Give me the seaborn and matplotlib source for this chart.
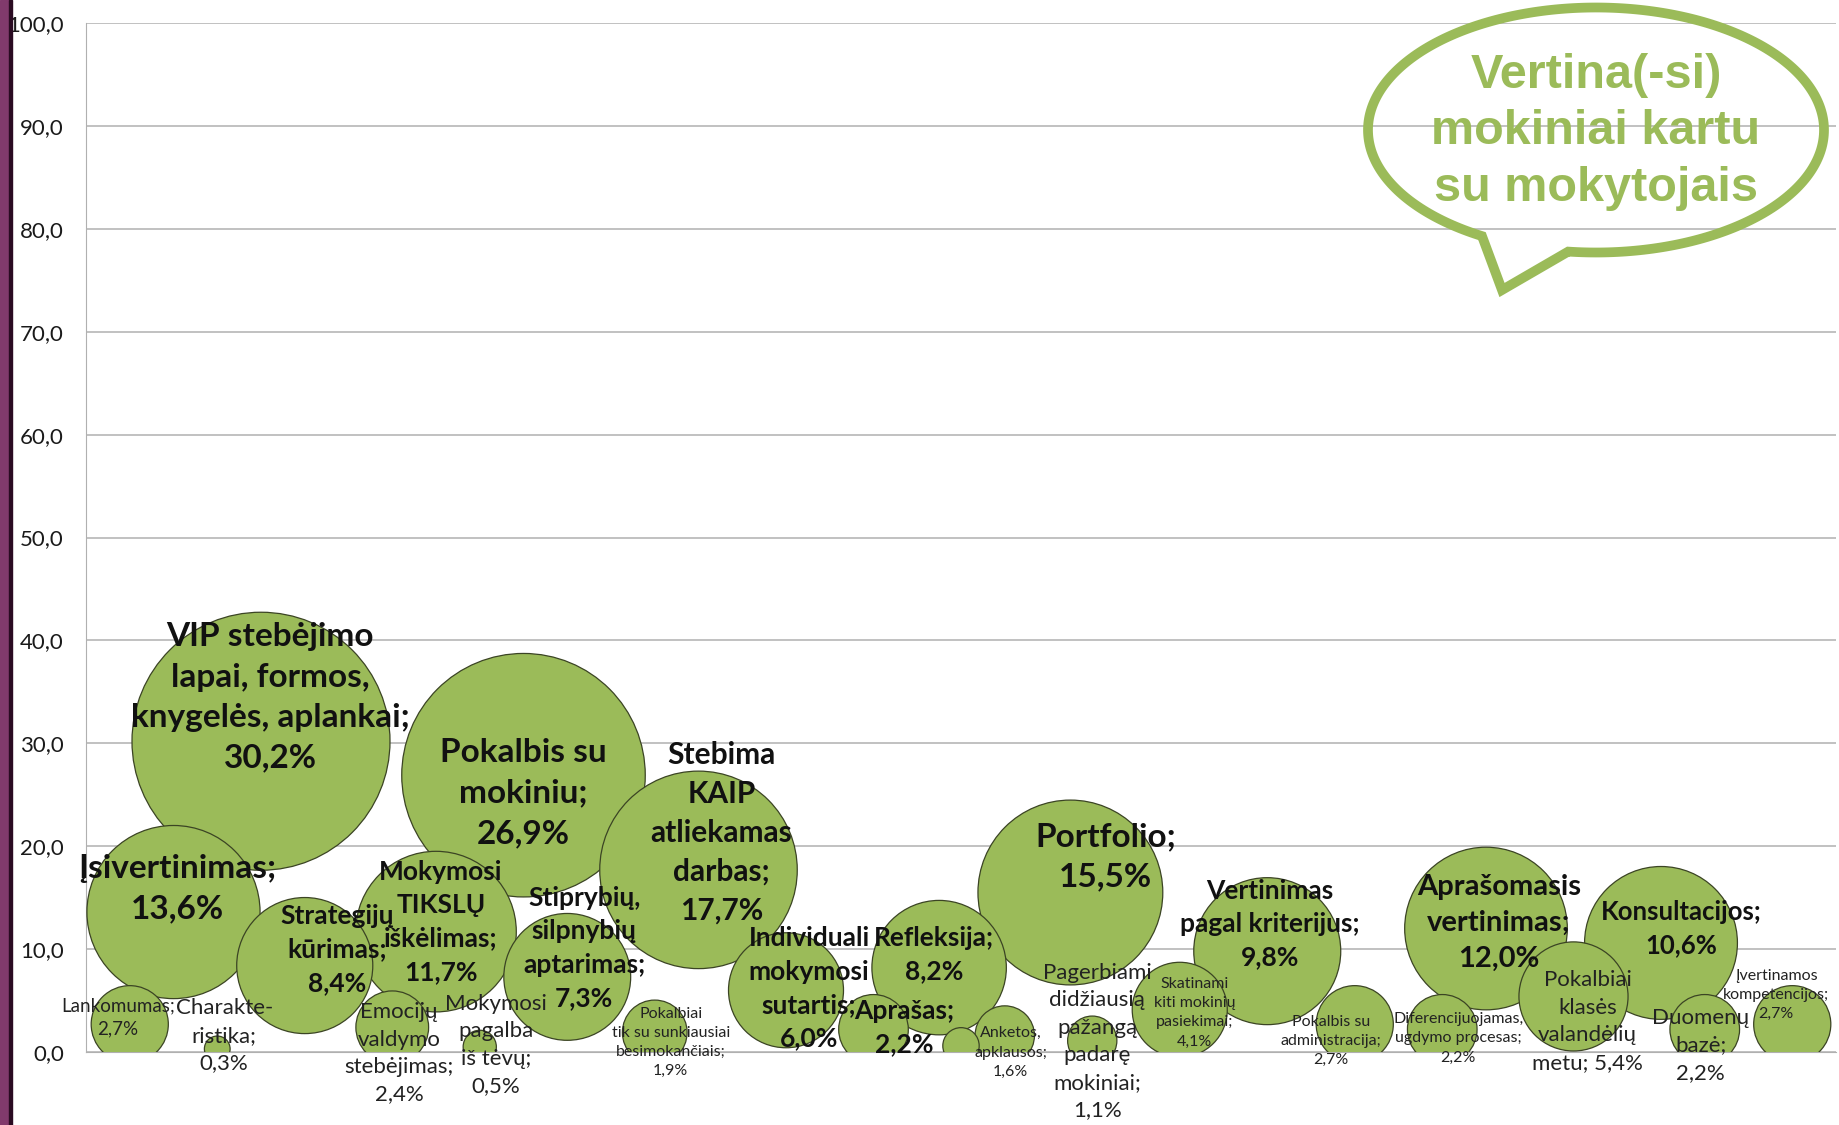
import numpy as np
import pandas as pd
import seaborn as sns
import matplotlib.pyplot as plt
from matplotlib.patches import Rectangle, Polygon
from matplotlib.transforms import IdentityTransform

# bubble chart data: x position, value (y and bubble size are the same number)
names = [
    "Lankomumas", "Charakte-\nristika", "Įsivertinimas",
    "VIP stebėjimo\nlapai, formos,\nknygelės, aplankai", "Strategijų\nkūrimas",
    "Emocijų\nvaldymo\nstebėjimas", "Mokymosi\nTIKSLŲ\niškėlimas",
    "Mokymosi\npagalba\niš tėvų", "Pokalbis su\nmokiniu",
    "Stiprybių,\nsilpnybių\naptarimas",
    "Pokalbiai\ntik su sunkiausiai\nbesimokančiais",
    "Stebima\nKAIP\natliekamas\ndarbas", "Individuali\nmokymosi\nsutartis",
    "Aprašas", "Refleksija", "", "Anketos,\napklausos", "Portfolio",
    "Pagerbiami\ndidžiausią\npažangą\npadarę\nmokiniai",
    "Skatinami\nkiti mokinių\npasiekimai", "Vertinimas\npagal kriterijus",
    "Pokalbis su\nadministracija", "Diferencijuojamas,\nugdymo procesas",
    "Aprašomasis\nvertinimas", "Pokalbiai\nklasės\nvalandėlių\nmetu",
    "Konsultacijos", "Duomenų\nbazė", "Įvertinamos\nkompetencijos",
]
x_pos = [1, 3, 2, 4, 5, 7, 8, 9, 10, 11, 13, 14, 16, 18, 19.5, 20, 21, 22.5,
         23, 25, 27, 29, 31, 32, 34, 36, 37, 39]
values = [2.7, 0.3, 13.6, 30.2, 8.4, 2.4, 11.7, 0.5, 26.9, 7.3, 1.9, 17.7, 6.0,
          2.2, 8.2, 0.6, 1.6, 15.5, 1.1, 4.1, 9.8, 2.7, 2.2, 12.0, 5.4, 10.6,
          2.2, 2.7]

y_ticks = [0, 10, 20, 30, 40, 50, 60, 70, 80, 90, 100]
y_tick_labels = ["0,0", "10,0", "20,0", "30,0", "40,0", "50,0", "60,0",
                 "70,0", "80,0", "90,0", "100,0"]

callout = "Vertina(-si)\nmokiniai kartu\nsu mokytojais"

# label layout: offset from bubble centre in pixels, font size, bold
label_dx = [-12, 7, 4, 9, 32, 7, 5, 16, 0, 17, 16, 23, 23, 31, -5, 0, 6, 35,
            5, 15, 3, -24, 16, 13, 14, 20, -4, -16]
label_dy = [7, 13, 23, 44, 16, -26, 10, 2, -18, 29, -10, 37, 2, 2, 13, 0, -17,
            36, -1, -3, 27, -17, -9, 6, -25, 14, -16, 29]
label_size = [13.5, 16, 24, 24, 19, 16, 19, 16, 24, 19, 11.5, 21.5, 19, 19, 19,
              10, 11.5, 24, 16, 11.5, 19, 11.5, 11.5, 21, 16, 18.5, 16, 11.5]
label_bold = [False, False, True, True, True, False, True, False, True, True,
              False, True, True, True, True, False, False, True, False, False,
              True, False, False, True, False, True, False, False]

green = "#9BBB59"
W, H = 1839, 1125

df = pd.DataFrame({"x": x_pos, "y": values, "size": values})
df = df.sort_values("size", ascending=False)

sns.set_style("white")
plt.rcParams['font.family'] = ['Lato', 'DejaVu Sans']

fig = plt.figure(figsize=(W / 100, H / 100), dpi=100)
ax = fig.add_axes([86 / W, 73 / H, 1750 / W, 1029 / H])

smax = (0.72 * 258) ** 2
sns.scatterplot(data=df, x="x", y="y", size="size", sizes=(0, smax),
                size_norm=(0, 30.2), legend=False, color=green,
                edgecolor="#3B4424", linewidth=0.9, alpha=1, ax=ax, zorder=3)

ax.set_xlim(0, 40)
ax.set_ylim(0, 100)
ax.set_yticks(y_ticks)
ax.set_yticklabels(y_tick_labels)
ax.set_xticks([])
ax.set_xlabel("")
ax.set_ylabel("")
ax.grid(axis="y", color="#B0B0B0", linewidth=1.1, zorder=0)
ax.set_axisbelow(True)
for s in ["top", "right"]:
    ax.spines[s].set_visible(False)
ax.spines["left"].set_color("#B0B0B0")
ax.spines["bottom"].set_color("#B0B0B0")
ax.tick_params(axis="y", length=6, color="#B0B0B0", width=1.1,
               labelsize=16, labelcolor="#1a1a1a", pad=10)

for i in range(len(names)):
    if names[i] == "":
        continue
    val = f"{values[i]:.1f}%".replace(".", ",")
    sep = " " if names[i].endswith("metu") else "\n"
    ax.annotate(names[i] + ";" + sep + val, (x_pos[i], values[i]),
                xytext=(label_dx[i], label_dy[i]), textcoords="offset pixels",
                ha="center", va="center", multialignment="center",
                fontsize=label_size[i],
                fontweight="bold" if label_bold[i] else "normal",
                color="#111111" if label_bold[i] else "#222222",
                linespacing=1.47, zorder=10, annotation_clip=False)

# purple strip on the left edge
fig.patches.append(Rectangle((0, 0), 9 / W, 1, transform=fig.transFigure,
                             color="#813A6C", zorder=5))
fig.patches.append(Rectangle((9 / W, 0), 3 / W, 1, transform=fig.transFigure,
                             color="#2A0B22", zorder=5))

# speech bubble in the top right corner
cx, cy, a, b = 1596, H - 130, 228, 122.5
t = np.radians(np.linspace(263, 600, 300))
pts = list(zip(cx + a * np.cos(t), cy + b * np.sin(t)))
pts.append((1502, H - 290))
bubble = Polygon(pts, closed=True, fill=False, edgecolor=green, linewidth=7,
                 joinstyle="miter", transform=IdentityTransform(), zorder=6)
fig.patches.append(bubble)
fig.text(1596 / W, 1 - 132 / H, callout, ha="center", va="center",
         fontsize=35, fontweight="bold", color=green, linespacing=1.32,
         family=["Liberation Sans", "DejaVu Sans"], zorder=7)

fig.savefig("out.png", dpi=100)
